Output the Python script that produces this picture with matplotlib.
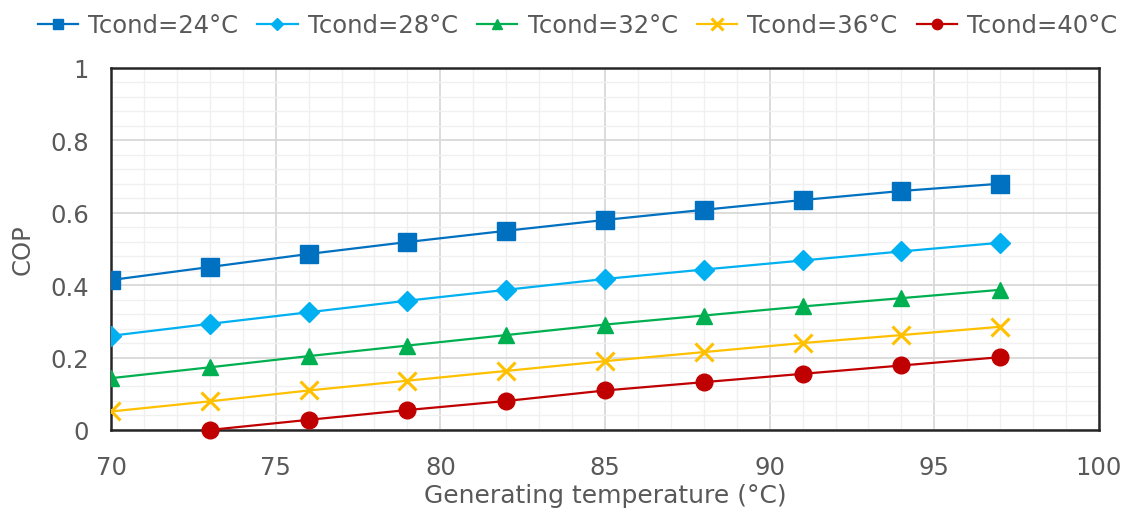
import matplotlib
matplotlib.use("Agg")
import matplotlib.pyplot as plt
from matplotlib.ticker import MultipleLocator

# Generating temperature (°C)
gen_temp = [70, 73, 76, 79, 82, 85, 88, 91, 94, 97]

# COP for each condenser temperature
cop_24 = [0.414, 0.450, 0.486, 0.519, 0.550, 0.580, 0.608, 0.635, 0.660, 0.680]
cop_28 = [0.260, 0.293, 0.325, 0.357, 0.387, 0.417, 0.443, 0.468, 0.493, 0.517]
cop_32 = [0.143, 0.173, 0.204, 0.233, 0.262, 0.291, 0.316, 0.341, 0.364, 0.387]
cop_36 = [0.051, 0.079, 0.109, 0.136, 0.163, 0.190, 0.215, 0.240, 0.262, 0.285]
gen_temp_40 = [73, 76, 79, 82, 85, 88, 91, 94, 97]
cop_40 = [0.000, 0.028, 0.055, 0.080, 0.109, 0.132, 0.155, 0.178, 0.201]

labels = ["Tcond=24°C", "Tcond=28°C", "Tcond=32°C", "Tcond=36°C", "Tcond=40°C"]

text_color = "#595959"
plt.rcParams["font.family"] = ["DejaVu Sans"]

fig = plt.figure(figsize=(11.26, 5.10), dpi=100)
ax = fig.add_axes([0.0986, 0.155, 0.8774, 0.710])

lw = 1.6
ax.plot(gen_temp, cop_24, color="#0070C0", marker="s", markersize=12.5, lw=lw, label=labels[0], zorder=3)
ax.plot(gen_temp, cop_28, color="#00B0F0", marker="D", markersize=10, lw=lw, label=labels[1], zorder=3)
ax.plot(gen_temp, cop_32, color="#00B050", marker="^", markersize=11, lw=lw, label=labels[2], zorder=3)
ax.plot(gen_temp, cop_36, color="#FFC000", marker="x", markersize=13, markeredgewidth=2.2, lw=lw, label=labels[3], zorder=3)
ax.plot(gen_temp_40, cop_40, color="#C00000", marker="o", markersize=12, lw=lw, label=labels[4], zorder=3, clip_on=False)

ax.set_xlim(70, 100)
ax.set_ylim(0, 1)
ax.xaxis.set_major_locator(MultipleLocator(5))
ax.xaxis.set_minor_locator(MultipleLocator(1))
ax.yaxis.set_major_locator(MultipleLocator(0.2))
ax.yaxis.set_minor_locator(MultipleLocator(0.04))
ax.yaxis.set_major_formatter(lambda v, p: "0" if abs(v) < 1e-9 else ("1" if abs(v - 1) < 1e-9 else f"{v:.1f}"))

ax.grid(which="major", color="#D9D9D9", lw=1.3, zorder=0)
ax.grid(which="minor", color="#F0F0F0", lw=1.0, zorder=0)
ax.set_axisbelow(True)

for s in ax.spines.values():
    s.set_color("#262626")
    s.set_linewidth(1.8)

ax.tick_params(which="both", length=0, labelsize=17.5, colors=text_color)
ax.tick_params(axis="x", pad=18)
ax.tick_params(axis="y", pad=16)

ax.set_xlabel("Generating temperature (°C)", fontsize=18, color=text_color, labelpad=3)
ax.set_ylabel("COP", fontsize=17.5, color=text_color, labelpad=11)

leg = fig.legend(loc="upper center", bbox_to_anchor=(0.513, 1.015), ncol=5, frameon=False,
                 fontsize=17.5, handlelength=1.65, columnspacing=0.8, handletextpad=0.42,
                 markerscale=0.62)
for t in leg.get_texts():
    t.set_color(text_color)

fig.savefig("out.png", dpi=100)
